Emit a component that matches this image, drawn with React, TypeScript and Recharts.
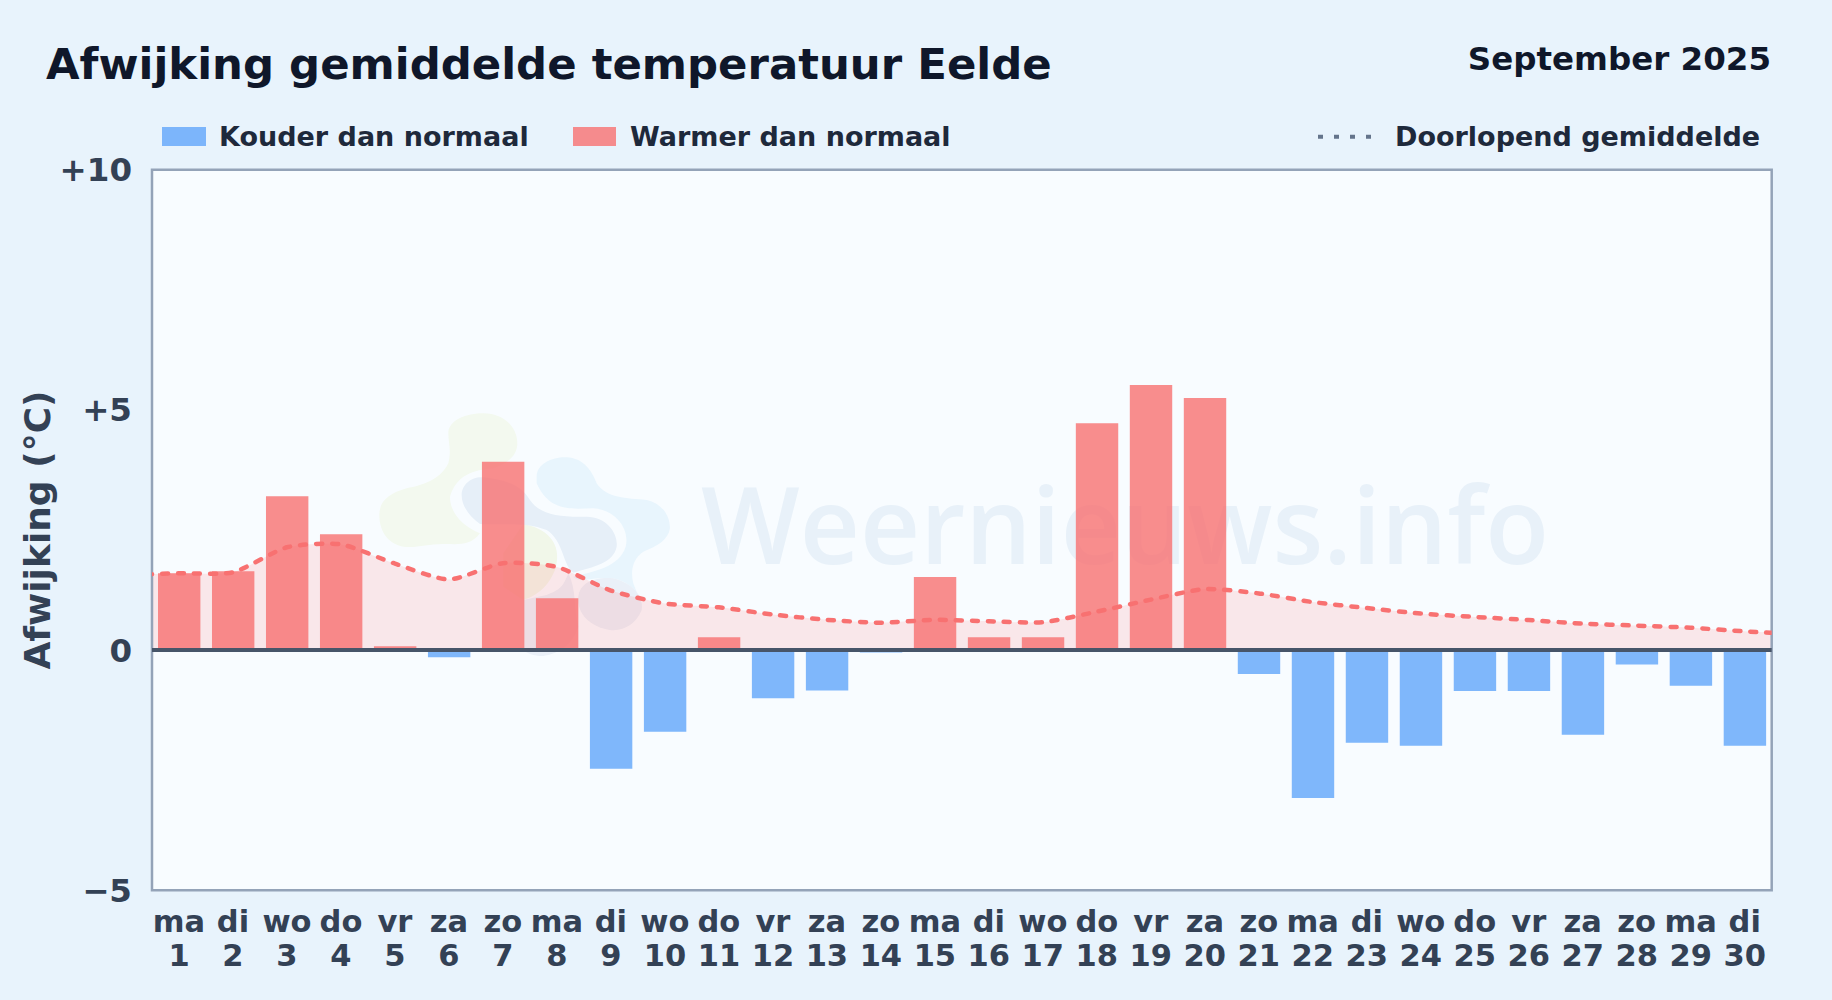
import React from "react";
import {
  Area,
  Bar,
  CartesianGrid,
  ComposedChart,
  Line,
  ReferenceArea,
  ReferenceLine,
  XAxis,
  YAxis,
} from "recharts";

const weekdays = [
  "ma", "di", "wo", "do", "vr", "za", "zo", "ma", "di", "wo",
  "do", "vr", "za", "zo", "ma", "di", "wo", "do", "vr", "za",
  "zo", "ma", "di", "wo", "do", "vr", "za", "zo", "ma", "di",
];
const days = [
  1, 2, 3, 4, 5, 6, 7, 8, 9, 10, 11, 12, 13, 14, 15,
  16, 17, 18, 19, 20, 21, 22, 23, 24, 25, 26, 27, 28, 29, 30,
];
const deviations = [
  1.6, 1.64, 3.2, 2.41, 0.08, -0.15, 3.92, 1.08, -2.47, -1.7,
  0.27, -1.0, -0.84, -0.05, 1.52, 0.27, 0.27, 4.72, 5.52, 5.25,
  -0.5, -3.08, -1.93, -1.99, -0.85, -0.85, -1.76, -0.3, -0.74, -1.99,
];
const runningMean = [
  1.6, 1.62, 2.14, 2.2, 1.8, 1.47, 1.81, 1.73, 1.24, 0.97,
  0.89, 0.74, 0.63, 0.57, 0.63, 0.6, 0.58, 0.8, 1.05, 1.27,
  1.18, 1.0, 0.875, 0.76, 0.69, 0.625, 0.55, 0.51, 0.465, 0.39,
];
// the mean runs on past the first and last bar up to the plot border
const meanBeforeFirstDay = 1.56;
const meanAfterLastDay = 0.33;
const yTicks = [-5, 0, 5, 10];

const chartData = [
  { day: 0, mean: meanBeforeFirstDay },
  ...days.map((day, i) => ({
    day,
    warm: deviations[i] > 0 ? deviations[i] : null,
    cold: deviations[i] < 0 ? deviations[i] : null,
    mean: runningMean[i],
  })),
  { day: 31, mean: meanAfterLastDay },
];

const FONT = "'DejaVu Sans', sans-serif";

const formatY = (v: number) => (v > 0 ? `+${v}` : v < 0 ? `\u2212${Math.abs(v)}` : "0");

// tight spline: the mean line has small handles, so its turns stay fairly sharp
const TENSION = 0.11;
class TightSpline {
  ctx: any;
  line: number = NaN;
  xs: number[] = [];
  ys: number[] = [];
  constructor(ctx: any) {
    this.ctx = ctx;
  }
  areaStart() {
    this.line = 0;
  }
  areaEnd() {
    this.line = NaN;
  }
  lineStart() {
    this.xs = [];
    this.ys = [];
  }
  point(x: number, y: number) {
    this.xs.push(+x);
    this.ys.push(+y);
  }
  lineEnd() {
    const { xs, ys, ctx } = this;
    const n = xs.length;
    if (n) {
      if (this.line) ctx.lineTo(xs[0], ys[0]);
      else ctx.moveTo(xs[0], ys[0]);
      for (let i = 0; i < n - 1; i++) {
        const p = Math.max(i - 1, 0);
        const q = Math.min(i + 2, n - 1);
        ctx.bezierCurveTo(
          xs[i] + TENSION * (xs[i + 1] - xs[p]),
          ys[i] + TENSION * (ys[i + 1] - ys[p]),
          xs[i + 1] - TENSION * (xs[q] - xs[i]),
          ys[i + 1] - TENSION * (ys[q] - ys[i]),
          xs[i + 1],
          ys[i + 1],
        );
      }
    }
    if (this.line || (this.line !== 0 && n === 1)) ctx.closePath();
    this.line = 1 - this.line;
  }
}
const tightSpline: any = (ctx: any) => new TightSpline(ctx);

const DayTick = ({ x, y, payload }: any) => (
  <text x={x} fontFamily={FONT} fontSize={30.5} fontWeight={700} fill="#334155" textAnchor="middle">
    <tspan x={x} y={y + 34}>{weekdays[payload.value - 1]}</tspan>
    <tspan x={x} y={y + 68}>{payload.value}</tspan>
  </text>
);

// faded logo and site name behind the bars
const Watermark = () => (
  <g>
    <rect x={152} y={169.7} width={1619.7} height={720.6} fill="#f8fcff" />
    <g transform="translate(360 400) scale(0.3333)">
      <path
        fill="#f3f9ef"
        d="M265 100 C265 60 320 40 370 40 C430 40 472 80 472 130 C472 170 440 190 400 205 C340 210 290 225 270 290 C270 340 310 380 360 400 C330 440 290 432 250 432 C200 432 170 445 130 440 C80 430 58 390 58 345 C58 300 90 280 140 265 C190 255 240 240 265 190 C275 150 265 130 265 100 Z"
      />
      <path fill="#f1f7e9" d="M490 372 C560 385 610 430 585 510 C560 570 520 590 490 600 L430 560 L430 460 Z" />
      <path
        fill="#e8f5fd"
        d="M530 230 C530 190 580 170 620 172 C670 175 695 210 710 250 C740 295 800 295 860 300 C905 310 930 345 930 385 C925 420 890 440 850 455 C820 475 810 510 820 550 C835 590 845 610 845 630 C850 590 820 550 760 535 C700 530 660 550 640 530 C700 515 780 500 797 440 C810 390 770 330 700 325 C640 325 570 340 530 250 Z"
      />
      <path
        fill="#e6eff8"
        d="M305 285 C305 250 340 228 370 232 C430 240 480 250 510 300 C540 345 600 352 680 350 C740 350 775 400 770 440 C760 490 700 500 640 518 C610 500 610 420 560 390 C500 365 440 375 360 372 C330 350 305 320 305 285 Z"
      />
      <path fill="#eaf0f8" d="M655 590 C660 550 700 530 760 535 C820 550 850 590 845 630 C830 670 790 695 750 690 C690 680 650 640 655 590 Z" />
      <path fill="#eaf0f8" d="M490 600 L560 585 C600 570 610 560 625 520 C650 570 640 620 655 680 C640 730 600 760 550 768 C520 768 500 760 490 750 Z" />
    </g>
    <text x={701} y={564} fontFamily="'Open Sans', sans-serif" fontWeight={600} fontSize={107} fill="#e8f1f9" textLength={848} lengthAdjust="spacingAndGlyphs">
      Weernieuws.info
    </text>
  </g>
);

const Header = () => (
  <g fontFamily={FONT} fontWeight={700}>
    <text x={46} y={79} fontSize={43.4} fill="#0f172a">Afwijking gemiddelde temperatuur Eelde</text>
    <text x={1771} y={70} fontSize={32.5} fill="#0f172a" textAnchor="end">September 2025</text>
    <rect x={162} y={127} width={44} height={19} fill="#60a5fa" fillOpacity={0.8} />
    <text x={219} y={146} fontSize={27} fill="#1e293b">Kouder dan normaal</text>
    <rect x={573} y={127} width={43} height={19} fill="#f87171" fillOpacity={0.8} />
    <text x={630} y={146} fontSize={27} fill="#1e293b">Warmer dan normaal</text>
    <line x1={1318} x2={1374} y1={136.7} y2={136.7} stroke="#64748b" strokeWidth={4} strokeDasharray="5 11" />
    <text x={1395} y={146} fontSize={27} fill="#1e293b">Doorlopend gemiddelde</text>
  </g>
);

export default function App() {
  return (
    <div style={{ position: "absolute", left: 0, top: 0, width: 1832, height: 1000, background: "#e8f3fc", overflow: "hidden" }}>
      <ComposedChart
        width={1832}
        height={1000}
        data={chartData}
        margin={{ top: 169.7, right: 60.3, bottom: 0, left: 0 }}
      >
        <Watermark />
        <CartesianGrid vertical={false} stroke="#e2e8f0" strokeWidth={1.5} />
        <XAxis
          dataKey="day"
          type="number"
          domain={[0.5, 30.5]}
          ticks={days}
          interval={0}
          height={109.7}
          axisLine={false}
          tickLine={false}
          tick={<DayTick />}
          allowDataOverflow
        />
        <YAxis
          type="number"
          domain={[-5, 10]}
          ticks={yTicks}
          width={152}
          interval={0}
          axisLine={false}
          tickLine={false}
          tickSize={0}
          tickMargin={20}
          tickFormatter={formatY}
          tick={{ fontFamily: FONT, fontSize: 32.5, fontWeight: 700, fill: "#334155" }}
          label={{
            value: "Afwijking (°C)",
            angle: -90,
            position: "insideLeft",
            offset: 37,
            style: { fontFamily: FONT, fontSize: 36, fontWeight: 700, fill: "#334155", textAnchor: "middle" },
          }}
        />
        <Area
          dataKey="mean"
          type={tightSpline}
          stroke="none"
          fill="#ff6b6b"
          fillOpacity={0.14}
          baseValue={0}
          isAnimationActive={false}
          connectNulls
        />
        <Bar dataKey="warm" stackId="dev" barSize={42.4} fill="#f87171" fillOpacity={0.8} isAnimationActive={false} />
        <Bar dataKey="cold" stackId="dev" barSize={42.4} fill="#60a5fa" fillOpacity={0.8} isAnimationActive={false} />
        <Line
          dataKey="mean"
          type={tightSpline}
          stroke="#f87171"
          strokeWidth={4.5}
          strokeDasharray="6 10"
          strokeDashoffset={11}
          strokeLinecap="round"
          dot={false}
          activeDot={false}
          isAnimationActive={false}
        />
        <ReferenceLine y={0} stroke="#475569" strokeWidth={4} />
        <ReferenceArea x1={0.5} x2={30.5} y1={-5} y2={10} fill="none" stroke="#94a3b8" strokeWidth={2.5} />
        <Header />
      </ComposedChart>
    </div>
  );
}
